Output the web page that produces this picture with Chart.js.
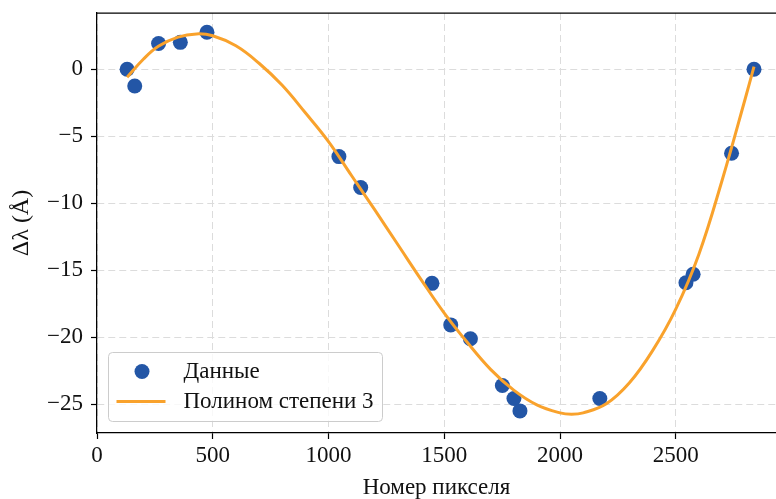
<!DOCTYPE html>
<html>
<head>
<meta charset="utf-8">
<script src="https://cdn.jsdelivr.net/npm/chart.js@4.4.1/dist/chart.umd.min.js"></script>
<style>
  html, body { margin: 0; padding: 0; background: #ffffff; }
  #wrap { width: 776px; height: 499px; }
</style>
</head>
<body>
<div id="wrap"><canvas id="c" width="776" height="499"></canvas></div>
<script>
// ---- Data ----
const pixelX = [130, 163, 266, 360, 475, 1045, 1139, 1447, 1528, 1613, 1751, 1801, 1827, 2172, 2544, 2575, 2741, 2838];
const deltaLambda = [0, -1.25, 1.92, 2.01, 2.76, -6.52, -8.83, -15.98, -19.08, -20.12, -23.6, -24.58, -25.5, -24.57, -15.93, -15.3, -6.27, 0];

const fitX = [130, 200, 265, 350, 430, 500, 600, 700, 800, 900, 1000, 1100, 1200, 1300, 1400, 1500, 1600, 1700, 1800, 1900, 2000, 2050, 2100, 2200, 2300, 2400, 2500, 2600, 2700, 2800, 2838];
const fitY = [-0.6, 0.75, 1.72, 2.4, 2.64, 2.5, 1.75, 0.45, -1.2, -3.25, -5.4, -7.95, -10.5, -13.1, -15.7, -18.2, -20.4, -22.4, -23.95, -25.05, -25.65, -25.75, -25.65, -24.97, -23.4, -21.0, -17.9, -13.8, -8.3, -2.2, 0.2];

const xTicks = [0, 500, 1000, 1500, 2000, 2500];
const yTicks = [-25, -20, -15, -10, -5, 0];
const xRange = [0, 2933];
const yRange = [-27.15, 4.2];

const labelData = 'Данные';
const labelFit = 'Полином степени 3';
const xTitle = 'Номер пикселя';
const yTitle = 'Δλ (Å)';

// ---- Styling ----
const FONT = "'Liberation Serif', 'Times New Roman', serif";
const DOT = '#2356a6';
const ORANGE = '#f9a22c';
const GRID = '#dcdcdc';

const toPts = (xs, ys) => xs.map((x, i) => ({ x: x, y: ys[i] }));
const minus = v => String(v).replace('-', '\u2212');

const frameAndLegend = {
  id: 'frameAndLegend',
  afterDraw(chart) {
    const ctx = chart.ctx;
    const a = chart.chartArea;
    ctx.save();
    // top spine
    ctx.strokeStyle = '#000';
    ctx.lineWidth = 1.25;
    ctx.beginPath();
    ctx.moveTo(a.left - 0.6, a.top);
    ctx.lineTo(a.right, a.top);
    ctx.stroke();

    // legend box
    const bx = a.left + 11.5, by = 352.5, bw = 274, bh = 69, r = 4;
    ctx.beginPath();
    ctx.moveTo(bx + r, by);
    ctx.lineTo(bx + bw - r, by);
    ctx.quadraticCurveTo(bx + bw, by, bx + bw, by + r);
    ctx.lineTo(bx + bw, by + bh - r);
    ctx.quadraticCurveTo(bx + bw, by + bh, bx + bw - r, by + bh);
    ctx.lineTo(bx + r, by + bh);
    ctx.quadraticCurveTo(bx, by + bh, bx, by + bh - r);
    ctx.lineTo(bx, by + r);
    ctx.quadraticCurveTo(bx, by, bx + r, by);
    ctx.closePath();
    ctx.fillStyle = 'rgba(255,255,255,0.8)';
    ctx.fill();
    ctx.strokeStyle = '#cccccc';
    ctx.lineWidth = 1;
    ctx.stroke();

    const ds = chart.data.datasets;
    const scatterDs = ds.find(d => d.type === 'scatter');
    const lineDs = ds.find(d => d.type === 'line');
    ctx.fillStyle = scatterDs.backgroundColor;
    ctx.beginPath();
    ctx.arc(bx + 33.5, by + 19, 7.5, 0, Math.PI * 2);
    ctx.fill();
    ctx.strokeStyle = lineDs.borderColor;
    ctx.lineWidth = 3;
    ctx.beginPath();
    ctx.moveTo(bx + 8, by + 49);
    ctx.lineTo(bx + 57, by + 49);
    ctx.stroke();

    ctx.fillStyle = '#111';
    ctx.font = "23px " + FONT;
    ctx.textBaseline = 'middle';
    ctx.textAlign = 'left';
    ctx.fillText(scatterDs.label, bx + 75, by + 19);
    ctx.fillText(lineDs.label, bx + 75, by + 49);
    ctx.restore();
  }
};

const setTicks = values => scale => { scale.ticks = values.map(v => ({ value: v })); };

new Chart(document.getElementById('c'), {
  data: {
    datasets: [
      {
        type: 'line',
        label: labelFit,
        data: toPts(fitX, fitY),
        borderColor: ORANGE,
        backgroundColor: ORANGE,
        borderWidth: 3,
        pointRadius: 0,
        fill: false,
        tension: 0.4,
        order: 0
      },
      {
        type: 'scatter',
        label: labelData,
        data: toPts(pixelX, deltaLambda),
        backgroundColor: DOT,
        borderColor: DOT,
        borderWidth: 0,
        pointRadius: 7.5,
        order: 1
      }
    ]
  },
  options: {
    responsive: false,
    animation: false,
    devicePixelRatio: 1,
    layout: { autoPadding: false, padding: { top: 13, right: 0, bottom: 0, left: 0 } },
    plugins: {
      legend: { display: false },
      tooltip: { enabled: false }
    },
    scales: {
      x: {
        type: 'linear',
        position: 'bottom',
        min: xRange[0],
        max: xRange[1],
        afterBuildTicks: setTicks(xTicks),
        afterFit: s => { s.height = 66; s.paddingLeft = 0; s.paddingRight = 0; },
        ticks: {
          autoSkip: false,
          color: '#111',
          font: { family: FONT, size: 23 },
          padding: 3,
          maxRotation: 0,
          callback: v => String(v)
        },
        grid: {
          color: GRID,
          lineWidth: 1,
          drawTicks: true,
          tickLength: 6,
          tickColor: '#000',
          tickWidth: 1.2,
          tickBorderDash: []
        },
        border: { display: true, color: '#000', width: 1.25, dash: [7, 4] },
        title: {
          display: true,
          text: xTitle,
          color: '#111',
          font: { family: FONT, size: 23, lineHeight: 1.0 },
          padding: { top: 0, bottom: 0 }
        }
      },
      y: {
        type: 'linear',
        min: yRange[0],
        max: yRange[1],
        afterBuildTicks: setTicks(yTicks),
        afterFit: s => { s.width = 97; s.paddingTop = 0; s.paddingBottom = 0; },
        ticks: {
          autoSkip: false,
          color: '#111',
          font: { family: FONT, size: 23 },
          padding: 8,
          callback: v => minus(v)
        },
        grid: {
          color: GRID,
          lineWidth: 1,
          drawTicks: true,
          tickLength: 6,
          tickColor: '#000',
          tickWidth: 1.2,
          tickBorderDash: []
        },
        border: { display: true, color: '#000', width: 1.25, dash: [7, 4] },
        title: {
          display: true,
          text: yTitle,
          color: '#111',
          font: { family: FONT, size: 24, lineHeight: 1.0 },
          padding: { top: 10, bottom: 0 }
        }
      }
    }
  },
  plugins: [frameAndLegend]
});
</script>
</body>
</html>
